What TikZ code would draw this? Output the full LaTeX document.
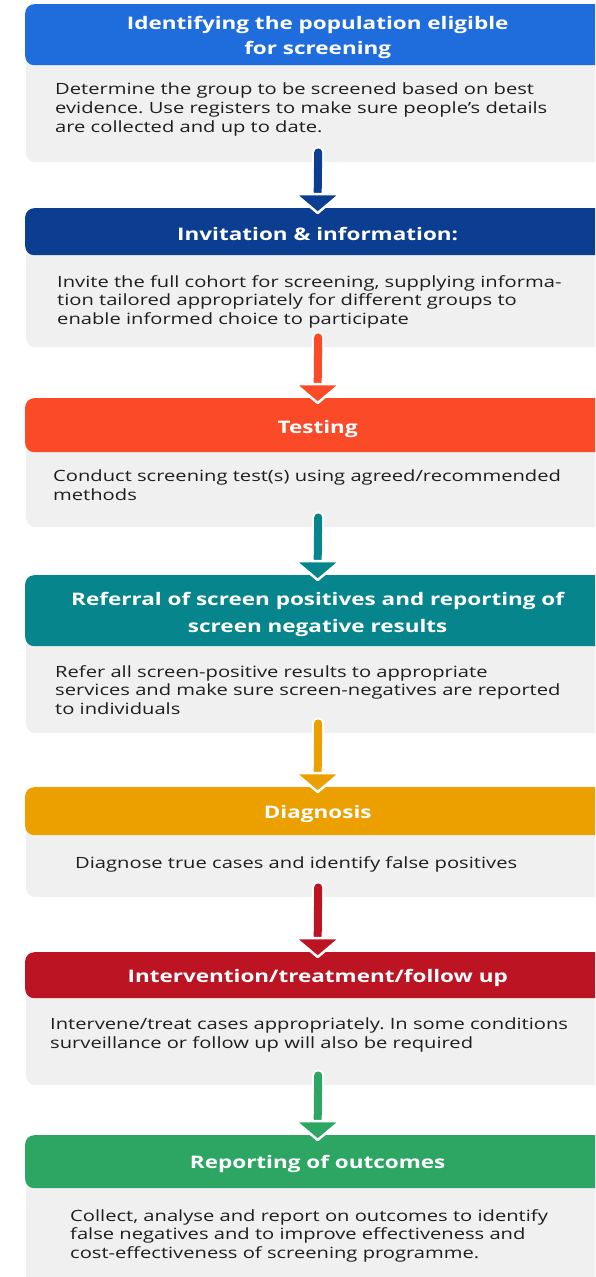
\documentclass[tikz,border=0pt]{standalone}
\usepackage{fontspec}
\setmainfont{Open Sans}[FakeStretch=1.3]
\frenchspacing
\definecolor{cA}{RGB}{31,108,220}
\definecolor{cB}{RGB}{11,61,145}
\definecolor{cC}{RGB}{250,74,40}
\definecolor{cD}{RGB}{6,134,140}
\definecolor{cE}{RGB}{236,160,0}
\definecolor{cF}{RGB}{189,20,35}
\definecolor{cG}{RGB}{44,166,98}
\definecolor{bodygrey}{RGB}{240,240,240}
\definecolor{textgrey}{RGB}{30,30,30}
\begin{document}
\begin{tikzpicture}[x=1pt,y=-1pt,
  hdr/.style={rectangle, rounded corners=9pt, minimum width=585pt, anchor=north west, inner sep=0pt},
  hlab/.style={inner sep=0pt, yshift=-3pt, text=white, font=\fontsize{17.3}{25}\selectfont\bfseries, align=center},
  bdy/.style={rectangle, rounded corners=9pt, fill=bodygrey, minimum width=584pt, anchor=north west, inner sep=0pt},
  txt/.style={anchor=north west, inner sep=0pt, align=left, text=textgrey, font=\fontsize{15.5}{18.8}\selectfont},
  stemout/.style={white, line width=12pt, line cap=round},
  stem/.style={line width=8pt, line cap=round}]
\path[use as bounding box, fill=white] (0,0) rectangle (595,1277);
\clip (0,0) rectangle (595,1277);
\newcommand{\flowarrow}[3]{%
  \draw[stemout] ([yshift=10pt]#1.south) -- ([yshift=16pt]#2.north);
  \draw[stem, #3] ([yshift=10pt]#1.south) -- ([yshift=16pt]#2.north);
  \filldraw[fill=#3, draw=white, line width=2.5pt, line join=round]
    ([yshift=14pt,xshift=-22.5pt]#2.north) -- ([yshift=14pt,xshift=22.5pt]#2.north) -- ([yshift=-5pt]#2.north) -- cycle;}
% bodies
\node[bdy, minimum height=107pt] (b1) at (26,55) {};
\node[bdy, minimum height=102pt] (b2) at (26,245) {};
\node[bdy, minimum height=85pt] (b3) at (26,442) {};
\node[bdy, minimum height=97pt] (b4) at (26,636) {};
\node[bdy, minimum height=72pt] (b5) at (26,825) {};
\node[bdy, minimum height=97pt] (b6) at (26,988) {};
\node[bdy, minimum height=110pt] (b7) at (26,1178) {};
% headers
\node[hdr, fill=cA, minimum height=61pt, label={[hlab]center:{Identifying the population eligible\\for screening}}] (h1) at (25,4) {};
\node[hdr, fill=cB, minimum height=47pt, label={[hlab,yshift=1pt]center:{Invitation \& information:}}] (h2) at (25,208) {};
\node[hdr, fill=cC, minimum height=54pt, label={[hlab,yshift=-1pt]center:{Testing}}] (h3) at (25,398) {};
\node[hdr, fill=cD, minimum height=71pt, label={[hlab,yshift=-1pt,font=\fontsize{17.3}{27}\selectfont\bfseries]center:{Referral of screen positives and reporting of\\screen negative results}}] (h4) at (25,575) {};
\node[hdr, fill=cE, minimum height=48pt, label={[hlab]center:{Diagnosis}}] (h5) at (25,787) {};
\node[hdr, fill=cF, minimum height=46pt, label={[hlab]center:{Intervention/treatment/follow up}}] (h6) at (25,952) {};
\node[hdr, fill=cG, minimum height=53pt, label={[hlab,yshift=1pt]center:{Reporting of outcomes}}] (h7) at (25,1135) {};
% texts
\node[txt] (t1) at (55,83) {Determine the group to be screened based on best\\evidence. Use registers to make sure people{\char"0027}s details\\are collected and up to date.};
\node[txt] (t2) at (57,275) {Invite the full cohort for screening, supplying informa-\\tion tailored appropriately for different groups to\\enable informed choice to participate};
\node[txt] (t3) at (53,470) {Conduct screening test(s) using agreed/recommended\\methods};
\node[txt] (t4) at (55,665) {Refer all screen-positive results to appropriate\\services and make sure screen-negatives are reported\\to individuals};
\node[txt] (t5) at (75,856) {Diagnose true cases and identify false positives};
\node[txt] (t6) at (50,1018) {Intervene/treat cases appropriately. In some conditions\\surveillance or follow up will also be required};
\node[txt] (t7) at (70,1209) {Collect, analyse and report on outcomes to identify\\false negatives and to improve effectiveness and\\cost-effectiveness of screening programme.};
% arrows
\flowarrow{b1}{h2}{cB}
\flowarrow{b2}{h3}{cC}
\flowarrow{b3}{h4}{cD}
\flowarrow{b4}{h5}{cE}
\flowarrow{b5}{h6}{cF}
\flowarrow{b6}{h7}{cG}
\end{tikzpicture}
\end{document}
